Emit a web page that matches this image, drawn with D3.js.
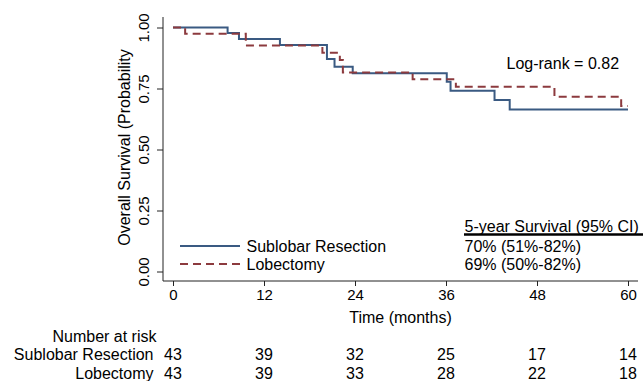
<!DOCTYPE html>
<html>
<head>
<meta charset="utf-8">
<script src="https://cdn.jsdelivr.net/npm/d3@7"></script>
<style>
    body { margin: 0; background: #fff; }
    #chart { width: 643px; height: 381px; }
    text { font-family: "Liberation Sans", Arial, Helvetica, sans-serif; fill: #000; }
</style>
</head>
<body>
<div id="chart"></div>
<script>
// Kaplan-Meier steps: [month, survival]
var sublobar = [[0, 1], [7.2, 0.977], [8.7, 0.953], [14.1, 0.928], [20.3, 0.871], [21.3, 0.839],
    [23.7, 0.812], [36.1, 0.778], [36.6, 0.741], [42.4, 0.703], [44.4, 0.664], [60, 0.664]];
var lobectomy = [[0, 1], [1.6, 0.974], [9.6, 0.926], [19.7, 0.897], [22.0, 0.867], [22.4, 0.816],
    [31.6, 0.788], [37.3, 0.757], [50.3, 0.716], [59.1, 0.678], [60, 0.678]];

var xTicks = [0, 12, 24, 36, 48, 60];
var yTicks = [0, 0.25, 0.5, 0.75, 1];
var riskSublobar = [43, 39, 32, 25, 17, 14];
var riskLobectomy = [43, 39, 33, 28, 22, 18];
var ciLabels = ["70% (51%-82%)", "69% (50%-82%)"];
var groupNames = ["Sublobar Resection", "Lobectomy"];

var width = 643, height = 381;
var blue = "#3a5a82", red = "#8c3a3e";

var svg = d3.select("#chart")
    .append("svg")
    .attr("width", width)
    .attr("height", height);

var xScale = d3.scaleLinear().domain([0, 60]).range([173, 628]);
var yScale = d3.scaleLinear().domain([0, 1]).range([271.5, 27.5]);

// axes
var xAxis = svg.append("g")
    .attr("transform", "translate(0,281)")
    .call(d3.axisBottom(xScale).tickValues(xTicks).tickSize(5).tickSizeOuter(0).tickPadding(3));
xAxis.select(".domain").remove();
xAxis.selectAll("text").style("font-size", "15px").attr("dy", "0.71em");

var yAxis = svg.append("g")
    .attr("transform", "translate(163,0)")
    .call(d3.axisLeft(yScale).tickValues(yTicks).tickFormat(d3.format(".2f")).tickSize(6).tickSizeOuter(0));
yAxis.select(".domain").remove();
yAxis.selectAll("text")
    .attr("x", 0).attr("dy", 0)
    .attr("transform", "translate(-14.5,0) rotate(-90)")
    .style("text-anchor", "middle")
    .style("font-size", "15px");

svg.selectAll(".tick line").attr("stroke", "#222");

svg.append("line")
    .attr("x1", 163).attr("x2", 638).attr("y1", 281).attr("y2", 281)
    .attr("stroke", "#222");
svg.append("line")
    .attr("x1", 163).attr("x2", 163).attr("y1", 17).attr("y2", 281)
    .attr("stroke", "#222");

// titles
svg.append("text")
    .attr("x", xScale(30)).attr("y", 323)
    .attr("text-anchor", "middle")
    .style("font-size", "16px")
    .text("Time (months)");

svg.append("text")
    .attr("transform", "translate(129.5,147.5) rotate(-90)")
    .attr("text-anchor", "middle")
    .style("font-size", "16px")
    .text("Overall Survival (Probability");

// survival curves
var line = d3.line()
    .curve(d3.curveStepAfter)
    .x(function(d) { return xScale(d[0]); })
    .y(function(d) { return yScale(d[1]); });

svg.append("path")
    .datum(sublobar)
    .attr("d", line)
    .attr("fill", "none")
    .attr("stroke", blue)
    .attr("stroke-width", 2);

svg.append("path")
    .datum(lobectomy)
    .attr("d", line)
    .attr("fill", "none")
    .attr("stroke", red)
    .attr("stroke-width", 2)
    .attr("stroke-dasharray", "8,5");

svg.append("text")
    .attr("x", 506.5).attr("y", 69)
    .style("font-size", "16px")
    .text("Log-rank = 0.82");

// legend
var legendY = [246, 264];
var legendText = [252, 269.5];
svg.append("line")
    .attr("x1", 180).attr("x2", 240).attr("y1", legendY[0]).attr("y2", legendY[0])
    .attr("stroke", blue).attr("stroke-width", 2);
svg.append("line")
    .attr("x1", 180).attr("x2", 240).attr("y1", legendY[1]).attr("y2", legendY[1])
    .attr("stroke", red).attr("stroke-width", 2).attr("stroke-dasharray", "8,5");
svg.selectAll(".legendLabel")
    .data(groupNames)
    .enter()
    .append("text")
    .attr("class", "legendLabel")
    .attr("x", 246.5)
    .attr("y", function(d, i) { return legendText[i]; })
    .style("font-size", "16px")
    .text(function(d) { return d; });

// 5-year survival block
svg.append("text")
    .attr("x", 464.5).attr("y", 231.5)
    .style("font-size", "16px")
    .text("5-year Survival (95% CI)");
svg.append("line")
    .attr("x1", 464).attr("x2", 643).attr("y1", 234.5).attr("y2", 234.5)
    .attr("stroke", "#000").attr("stroke-width", 2.5);
svg.selectAll(".ciLabel")
    .data(ciLabels)
    .enter()
    .append("text")
    .attr("class", "ciLabel")
    .attr("x", 464.5)
    .attr("y", function(d, i) { return legendText[i]; })
    .style("font-size", "16px")
    .text(function(d) { return d; });

// number at risk table
svg.append("text")
    .attr("x", 156.5).attr("y", 341.5)
    .attr("text-anchor", "end")
    .style("font-size", "16px")
    .text("Number at risk");

var rows = [riskSublobar, riskLobectomy];
var rowY = [360, 379];
rows.forEach(function(row, r) {
    svg.append("text")
        .attr("x", 153.5).attr("y", rowY[r])
        .attr("text-anchor", "end")
        .style("font-size", "16px")
        .text(groupNames[r]);
    svg.selectAll(".risk" + r)
        .data(row)
        .enter()
        .append("text")
        .attr("class", "risk" + r)
        .attr("x", function(d, i) { return xScale(xTicks[i]); })
        .attr("y", rowY[r])
        .attr("text-anchor", "middle")
        .style("font-size", "16px")
        .text(function(d) { return d; });
});
</script>
</body>
</html>
